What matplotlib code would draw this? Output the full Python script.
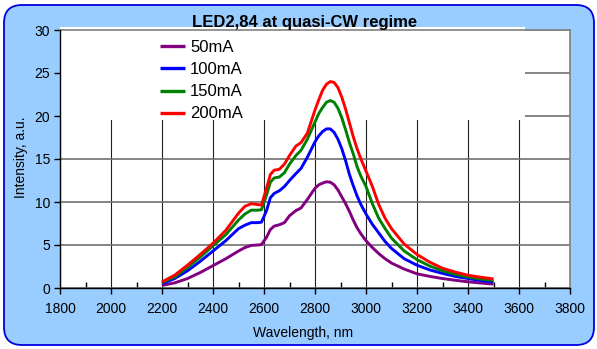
import matplotlib
matplotlib.use("Agg")
import matplotlib.pyplot as plt
from matplotlib.patches import FancyBboxPatch, Rectangle

plt.rcParams['font.family'] = ['Liberation Sans', 'DejaVu Sans']

wavelength = [2200, 2250, 2300, 2350, 2400, 2450, 2500, 2525, 2550, 2575, 2590,
              2610, 2625, 2640, 2660, 2680, 2700, 2725, 2745, 2770, 2800, 2815,
              2830, 2845, 2860, 2875, 2890, 2905, 2920, 2935, 2950, 2965, 2980,
              3000, 3025, 3050, 3075, 3100, 3150, 3200, 3250, 3300, 3350, 3400,
              3450, 3500]

i_50 = [0.3, 0.6, 1.1, 1.8, 2.6, 3.4, 4.3, 4.7, 4.95, 5.0, 5.05,
        5.9, 6.8, 7.2, 7.35, 7.6, 8.4, 9.0, 9.3, 10.3, 11.6, 12.0,
        12.2, 12.35, 12.3, 12.0, 11.4, 10.6, 9.8, 8.9, 7.9, 7.0, 6.3,
        5.5, 4.7, 4.0, 3.4, 2.9, 2.2, 1.65, 1.35, 1.1, 0.9, 0.72,
        0.58, 0.45]

i_100 = [0.5, 1.1, 2.0, 3.1, 4.3, 5.5, 6.9, 7.3, 7.6, 7.6, 7.65,
         9.0, 10.5, 11.0, 11.3, 11.8, 12.5, 13.3, 13.9, 15.2, 17.0, 17.7,
         18.2, 18.5, 18.5, 18.1, 17.3, 16.2, 14.8, 13.2, 11.9, 10.7, 9.7,
         8.6, 7.4, 6.4, 5.4, 4.6, 3.4, 2.65, 2.1, 1.7, 1.35, 1.1,
         0.88, 0.7]

i_150 = [0.63, 1.3, 2.4, 3.6, 4.9, 6.2, 7.9, 8.6, 9.05, 9.05, 9.1,
         10.8, 12.3, 12.8, 12.9, 13.4, 14.4, 15.4, 16.0, 17.3, 19.3, 20.3,
         21.0, 21.6, 21.8, 21.6, 20.9, 19.8, 18.4, 16.9, 15.6, 14.1, 13.0,
         11.8, 9.8, 8.1, 6.9, 5.8, 4.3, 3.3, 2.55, 2.0, 1.6, 1.28,
         1.05, 0.88]

i_200 = [0.7, 1.5, 2.65, 3.9, 5.2, 6.7, 8.7, 9.5, 9.8, 9.7, 9.65,
         11.6, 13.2, 13.7, 13.8, 14.4, 15.4, 16.5, 16.9, 18.0, 20.7, 21.9,
         23.0, 23.7, 24.0, 23.9, 23.3, 22.2, 20.8, 19.2, 17.6, 16.2, 15.0,
         13.6, 11.8, 9.7, 8.1, 6.9, 5.1, 3.9, 3.0, 2.3, 1.85, 1.48,
         1.25, 1.05]

labels = ['50mA', '100mA', '150mA', '200mA']
colors = ['#800080', '#0000FF', '#008000', '#FF0000']
series = [i_50, i_100, i_150, i_200]

W, H = 597, 349
fig = plt.figure(figsize=(W / 100, H / 100), dpi=100, facecolor='white')

bg = FancyBboxPatch((4 / W, 4 / H), (W - 7) / W, (H - 9) / H,
                    boxstyle="round,pad=0,rounding_size=0.03",
                    transform=fig.transFigure, facecolor='#99CCFF',
                    edgecolor='#0000E0', linewidth=1.3, zorder=-5,
                    mutation_aspect=W / H)
fig.patches.append(bg)

ax = fig.add_axes([60 / W, (H - 288) / H, 510 / W, 258 / H])
ax.set_zorder(1)
ax.set_facecolor('white')

for y, c, lab in zip(series, colors, labels):
    ax.plot(wavelength, y, color=c, lw=2.1, label=lab, zorder=4,
            solid_joinstyle='round', solid_capstyle='butt')

ax.set_xlim(1800, 3800)
ax.set_ylim(0, 30)
ax.set_xticks(range(1800, 3801, 200))
ax.set_xticks(range(1900, 3800, 200), minor=True)
ax.set_yticks(range(0, 31, 5))

ax.tick_params(axis='x', which='major', direction='out', length=4, width=1,
               labelsize=10, pad=6, colors='black')
ax.tick_params(axis='x', which='minor', direction='in', length=4, width=1)
ax.tick_params(axis='y', which='major', direction='out', length=4, width=1,
               labelsize=10, pad=3)

ax.grid(axis='x', which='major', color='#202020', lw=0.8, zorder=1)
ax.grid(axis='y', which='major', color='#707070', lw=1.2, zorder=1)
ax.set_axisbelow(True)

for s in ['top', 'right']:
    ax.spines[s].set_color('#808080')
    ax.spines[s].set_linewidth(1.2)
for s in ['left', 'bottom']:
    ax.spines[s].set_color('black')
    ax.spines[s].set_linewidth(1.0)
    ax.spines[s].set_zorder(5)

# white legend area covering upper-left part of plot
ax.add_patch(Rectangle((0.0, 0.652), 0.912, 0.36, transform=ax.transAxes,
                       facecolor='white', edgecolor='none', zorder=2,
                       clip_on=False))

leg = ax.legend(loc='upper left', bbox_to_anchor=(160 / W, 1 - 40 / H),
                bbox_transform=fig.transFigure, frameon=False, fontsize=12,
                handlelength=1.5, handletextpad=0.3, labelspacing=0.43,
                borderpad=0, borderaxespad=0)
for l in leg.get_lines():
    l.set_linewidth(2.4)
leg.set_zorder(6)

fig.text(305 / W, 1 - 22 / H, 'LED2,84 at quasi-CW regime', ha='center',
         va='center', fontsize=12, fontweight='bold', zorder=7)
fig.text(303 / W, 1 - 333 / H, 'Wavelength, nm', ha='center', va='center',
         fontsize=10)
fig.text(21 / W, 1 - 157 / H, 'Intensity, a.u.', ha='center', va='center',
         rotation=90, fontsize=10)

fig.savefig('out.png', dpi=100, facecolor='white')
